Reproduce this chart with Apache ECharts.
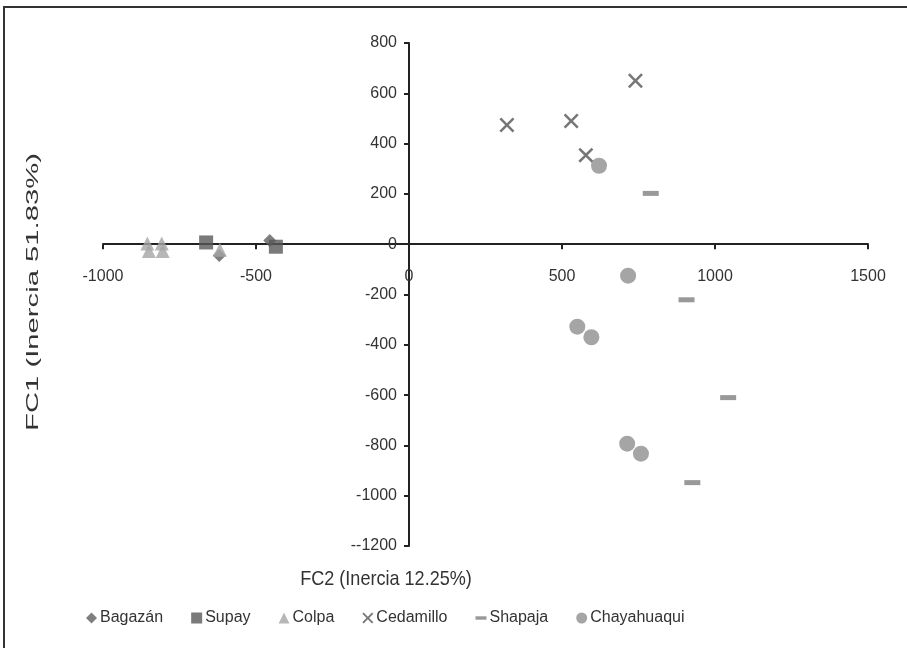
<!DOCTYPE html>
<html>
<head>
<meta charset="utf-8">
<script src="https://cdn.jsdelivr.net/npm/echarts@6/dist/echarts.min.js"></script>
<style>
html,body{margin:0;padding:0;background:#fff;}
#chart{width:907px;height:648px;}
</style>
</head>
<body>
<div id="chart"></div>
<script>
var seriesNames = ['Bagazán', 'Supay', 'Colpa', 'Cedamillo', 'Shapaja', 'Chayahuaqui'];
var bagazan = [[-455, 15], [-620, -45]];
var supay = [[-663, 7], [-435, -10]];
var colpa = [[-855, 3], [-850, -27], [-808, 3], [-805, -27], [-618, -22]];
var cedamillo = [[320, 474], [530, 490], [578, 354], [740, 650]];
var shapaja = [[790, 202], [907, -221], [1043, -610], [926, -948]];
var chayahuaqui = [[621, 312], [716, -125], [550, -328], [596, -370], [713, -793], [758, -833]];
var xTicks = { min: -1000, max: 1500, interval: 500 };
var yTicks = { min: -1200, max: 800, interval: 200 };
var xTitle = 'FC2 (Inercia 12.25%)';
var yTitle = 'FC1 (Inercia 51.83%)';

var regular = '"Liberation Sans", Arial, sans-serif';
var xPath = 'path://M1.2,0 L5,3.8 L8.8,0 L10,1.2 L6.2,5 L10,8.8 L8.8,10 L5,6.2 L1.2,10 L0,8.8 L3.8,5 L0,1.2 Z';
var dashPath = 'path://M0,0 L16,0 L16,5 L0,5 Z';

var chart = echarts.init(document.getElementById('chart'), null, { renderer: 'canvas' });
chart.setOption({
  animation: false,
  backgroundColor: '#fff',
  grid: { left: 103, right: 39, top: 43, bottom: 102, containLabel: false },
  xAxis: {
    type: 'value', min: xTicks.min, max: xTicks.max, interval: xTicks.interval,
    splitLine: { show: false },
    axisLine: { onZero: true, lineStyle: { color: '#222', width: 2 } },
    axisTick: { show: true, length: 5, lineStyle: { color: '#222', width: 2 } },
    axisLabel: { margin: -277, color: '#333', fontSize: 16, fontFamily: regular,
      formatter: function (v) { return String(v); } }
  },
  yAxis: {
    type: 'value', min: yTicks.min, max: yTicks.max, interval: yTicks.interval,
    splitLine: { show: false },
    axisLine: { onZero: true, lineStyle: { color: '#222', width: 2 } },
    axisTick: { show: true, length: 5, lineStyle: { color: '#222', width: 2 } },
    axisLabel: { margin: -294, color: '#333', fontSize: 16, fontFamily: regular,
      formatter: function (v) { return v === -1200 ? '--1200' : String(v); } }
  },
  legend: {
    left: 81, top: 605, itemWidth: 11, itemHeight: 11, itemGap: 28,
    textStyle: { fontFamily: regular, fontSize: 16, color: '#333', padding: [0, 0, 0, -2] },
    data: seriesNames
  },
  graphic: [
    { type: 'rect', shape: { x: 4, y: 7, width: 1000, height: 1000 }, style: { fill: 'none', stroke: '#333', lineWidth: 2 }, silent: true },
    { type: 'text', x: 386, y: 579, scaleX: 0.86, style: { text: xTitle, font: '21px ' + regular, fill: '#333', align: 'center', verticalAlign: 'middle' } },
    { type: 'text', x: 33, y: 292, rotation: Math.PI / 2, scaleX: 1.72, style: { text: yTitle, font: '17px ' + regular, fill: '#333', align: 'center', verticalAlign: 'middle' } }
  ],
  series: [
    { name: 'Bagazán', type: 'scatter', symbol: 'diamond', symbolSize: 13, itemStyle: { color: '#5f5f5f' }, data: bagazan },
    { name: 'Supay', type: 'scatter', symbol: 'rect', symbolSize: 14, itemStyle: { color: '#595959' }, data: supay },
    { name: 'Colpa', type: 'scatter', symbol: 'triangle', symbolSize: 14, itemStyle: { color: '#a5a5a5' }, data: colpa },
    { name: 'Cedamillo', type: 'scatter', symbol: xPath, symbolSize: 15, itemStyle: { color: '#555' }, data: cedamillo },
    { name: 'Shapaja', type: 'scatter', symbol: dashPath, symbolSize: [16, 5], itemStyle: { color: '#808080' }, data: shapaja },
    { name: 'Chayahuaqui', type: 'scatter', symbol: 'circle', symbolSize: 16, itemStyle: { color: '#8f8f8f' }, data: chayahuaqui }
  ]
});
</script>
</body>
</html>
